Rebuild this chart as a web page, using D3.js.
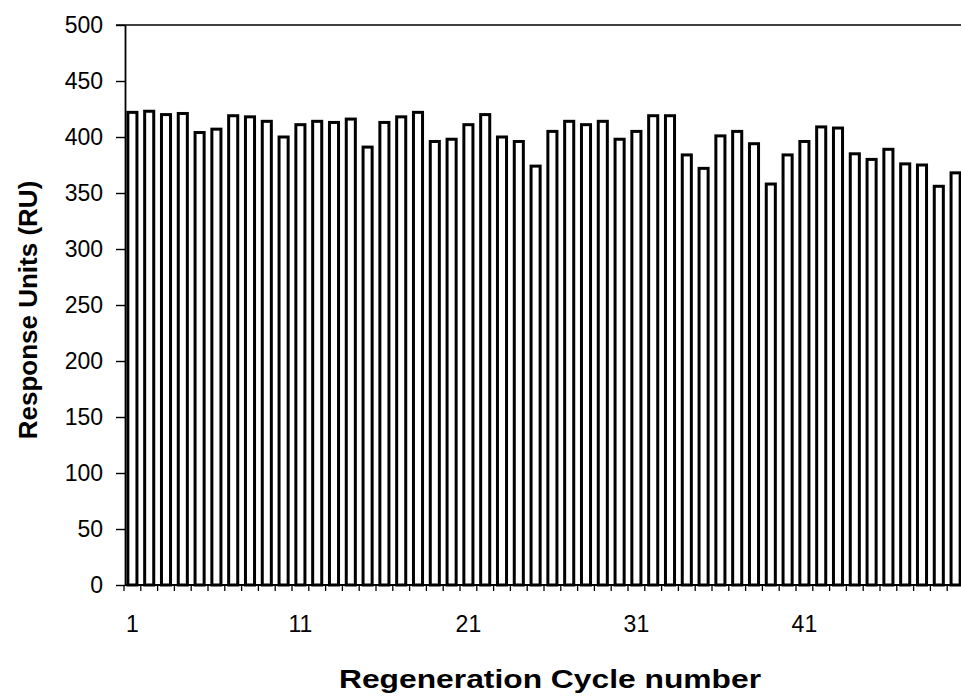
<!DOCTYPE html>
<html>
<head>
<meta charset="utf-8">
<script src="https://cdn.jsdelivr.net/npm/d3@7"></script>
<style>
  html, body { margin: 0; padding: 0; background: #fff; }
  svg { display: block; font-family: "Liberation Sans", Arial, sans-serif; }
</style>
</head>
<body>
<svg id="chart" width="961" height="696"></svg>
<script>
// Response after each regeneration cycle (RU)
const cycles = d3.range(1, 51);
const response = [
  422, 423, 420, 421, 404, 407, 419, 418, 414, 400,
  411, 414, 413, 416, 391, 413, 418, 422, 396, 398,
  411, 420, 400, 396, 374, 405, 414, 411, 414, 398,
  405, 419, 419, 384, 372, 401, 405, 394, 358, 384,
  396, 409, 408, 385, 380, 389, 376, 375, 356, 368
];
const yTicks = d3.range(0, 501, 50);
const xTickLabels = [1, 11, 21, 31, 41];

const svg = d3.select("#chart");
const plotLeft = 125, plotRight = 965, plotTop = 25, plotBottom = 585;

const x = d3.scaleBand()
  .domain(cycles)
  .range([plotLeft - 1, plotRight - 1])
  .paddingInner(0.46)
  .paddingOuter(0.23);

const y = d3.scaleLinear().domain([0, 500]).range([plotBottom, plotTop]);

// bars
svg.append("g")
  .selectAll("rect")
  .data(cycles)
  .join("rect")
  .attr("x", d => x(d))
  .attr("y", (d, i) => y(response[i]))
  .attr("width", x.bandwidth())
  .attr("height", (d, i) => y(0) - y(response[i]))
  .attr("fill", "#fff")
  .attr("stroke", "#000")
  .attr("stroke-width", 3);

// top frame line
svg.append("line")
  .attr("x1", plotLeft - 9).attr("x2", 961)
  .attr("y1", plotTop).attr("y2", plotTop)
  .attr("stroke", "#000").attr("stroke-width", 1.6);

// y axis
const yAxis = svg.append("g")
  .attr("transform", `translate(${plotLeft},0)`)
  .call(d3.axisLeft(y).tickValues(yTicks).tickSize(9).tickPadding(13).tickSizeOuter(0));
yAxis.select(".domain").attr("stroke-width", 1.8);
yAxis.selectAll(".tick line").attr("stroke-width", 1.4);
yAxis.selectAll("text")
  .attr("font-size", 23)
  .attr("fill", "#000")
  .attr("font-family", "'Liberation Sans', Arial, sans-serif");

// x axis: ticks sit on the category boundaries
const boundaries = cycles.map(c => x(c) - x.step() * x.paddingInner() / 2);
const xAxisG = svg.append("g");
xAxisG.append("line")
  .attr("x1", plotLeft).attr("x2", 961)
  .attr("y1", plotBottom).attr("y2", plotBottom)
  .attr("stroke", "#000").attr("stroke-width", 1.8);
xAxisG.selectAll("line.tk")
  .data(boundaries)
  .join("line")
  .attr("class", "tk")
  .attr("x1", d => d).attr("x2", d => d)
  .attr("y1", plotBottom).attr("y2", plotBottom + 6)
  .attr("stroke", "#000").attr("stroke-width", 1.3);
xAxisG.selectAll("text")
  .data(xTickLabels)
  .join("text")
  .attr("x", d => x(d) + x.bandwidth() / 2)
  .attr("y", 632)
  .attr("text-anchor", "middle")
  .attr("font-size", 23)
  .text(d => d);

// axis titles
svg.append("text")
  .attr("transform", "translate(37,310) rotate(-90)")
  .attr("text-anchor", "middle")
  .attr("font-size", 26)
  .attr("font-weight", "bold")
  .text("Response Units (RU)");

svg.append("text")
  .attr("x", 550)
  .attr("y", 688)
  .attr("text-anchor", "middle")
  .attr("font-size", 26)
  .attr("font-weight", "bold")
  .attr("textLength", 422)
  .attr("lengthAdjust", "spacingAndGlyphs")
  .text("Regeneration Cycle number");
</script>
</body>
</html>
